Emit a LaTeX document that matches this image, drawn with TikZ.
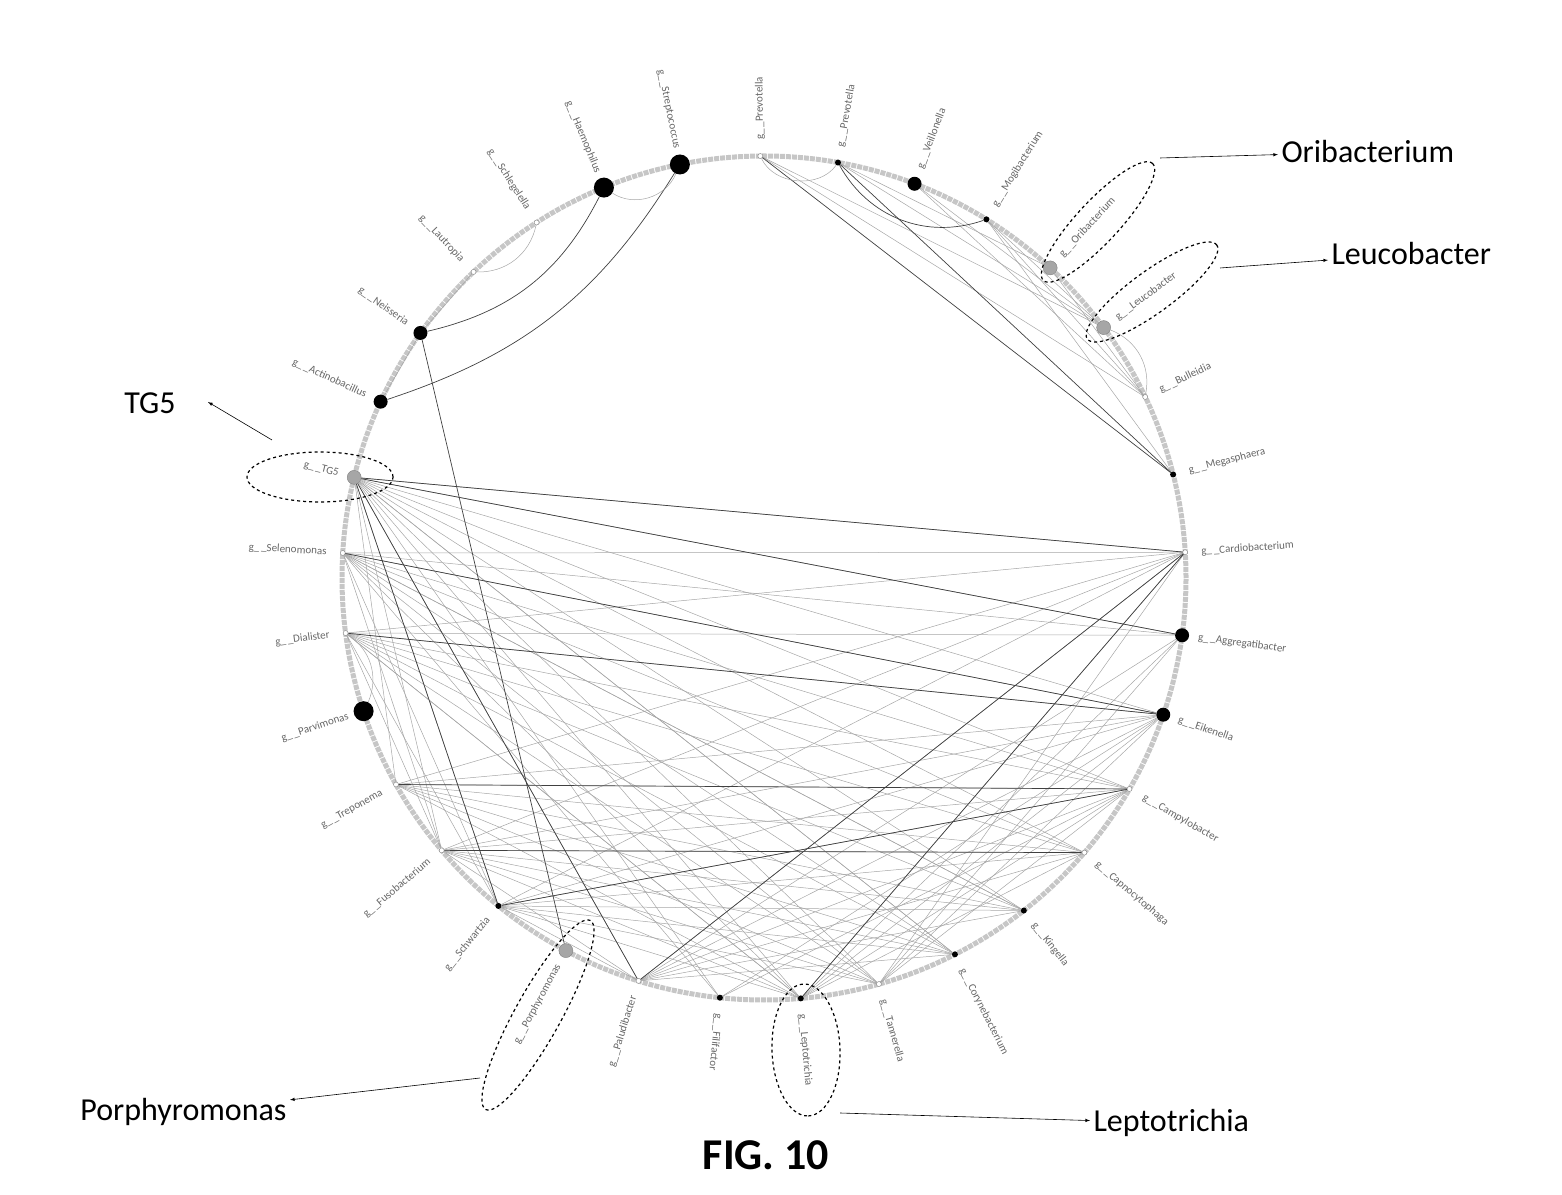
\documentclass[tikz,border=0pt]{standalone}
\usepackage{fontspec}
\setmainfont{Carlito}
\usetikzlibrary{calc}
\begin{document}
\begin{tikzpicture}[x=1pt,y=1pt,
  big/.style={circle,fill=black,inner sep=0pt,minimum size=20pt},
  med/.style={circle,fill=black,inner sep=0pt,minimum size=14pt},
  sml/.style={circle,fill=black,inner sep=0pt,minimum size=6pt},
  tin/.style={circle,draw=gray,fill=white,inner sep=0pt,minimum size=5pt},
  gry/.style={circle,fill=gray!70,draw=gray,inner sep=0pt,minimum size=14pt},
  lbl/.style={text=gray!80!black,font=\fontsize{11}{11}\selectfont,inner sep=0pt},
  edg/.style={gray!70,line width=0.5pt},
  dedg/.style={black!75,line width=0.7pt},
  callout/.style={dashed,line width=1.2pt},
  big text/.style={font=\fontsize{32}{32}\selectfont},
  arr/.style={-latex,line width=0.6pt}]
\useasboundingbox (0,0) rectangle (1562,1194);
\coordinate (c) at (764,616);
\draw[gray!45,line width=5pt,densely dotted] (c) circle (422);
% nodes
\foreach \nm/\ang/\st/\txt in {
 prevA/90.5/tin/Prevotella, prevB/79.9/sml/Prevotella, veil/69.1/med/Veillonella,
 mogi/58.2/sml/Mogibacterium, ori/47.3/gry/Oribacterium, leuc/36.4/gry/Leucobacter,
 bull/25.4/tin/Bulleidia, mega/14.2/sml/Megasphaera, card/3.5/tin/Cardiobacterium,
 aggr/-7.8/med/Aggregatibacter, eik/-18.9/med/Eikenella, camp/-30/tin/Campylobacter,
 capn/-40.6/tin/Capnocytophaga, king/-52/sml/Kingella, cory/-63.1/sml/Corynebacterium,
 tann/-74.2/tin/Tannerella, lept/-85/sml/Leptotrichia, fili/-96/sml/Filifactor,
 palu/-107.3/tin/Paludibacter, porp/-118/gry/Porphyromonas, schw/-129/sml/Schwartzia,
 fuso/-139.8/tin/Fusobacterium, trep/-150.7/tin/Treponema, parv/-161.6/big/Parvimonas,
 dial/-172.5/tin/Dialister, sele/176.6/tin/Selenomonas, tg/166.2/gry/TG5,
 acti/155.3/med/Actinobacillus, neis/144.5/med/Neisseria, laut/133.5/tin/Lautropia,
 schl/122.6/tin/Schlegelella, haem/112.3/big/Haemophilus, strep/101.5/big/Streptococcus}
{
 \node[\st] (\nm) at ($(c)+(\ang:422)$) {};
 \pgfmathsetmacro{\a}{\ang}
 \ifdim \a pt<95pt \ifdim \a pt>-100pt
   \node[lbl,anchor=west,rotate=\ang] at ($(c)+(\ang:438)$) {g\_\,\_\txt};
 \else
   \node[lbl,anchor=east,rotate=\ang+180] at ($(c)+(\ang:438)$) {g\_\,\_\txt};
 \fi\else
   \node[lbl,anchor=east,rotate=\ang+180] at ($(c)+(\ang:438)$) {g\_\,\_\txt};
 \fi
}
% straight edges
\foreach \a/\b in {
 tg/card,tg/aggr,tg/eik,tg/camp,tg/schw,tg/palu,tg/fili,tg/lept,tg/tann,tg/cory,tg/king,tg/fuso,tg/trep,
 sele/card,sele/aggr,sele/eik,sele/camp,sele/capn,sele/king,sele/cory,sele/tann,
 dial/card,dial/aggr,dial/eik,dial/camp,dial/capn,dial/king,dial/cory,dial/lept,
 trep/card,trep/eik,trep/camp,trep/capn,trep/king,trep/cory,trep/tann,trep/lept,
 fuso/card,fuso/eik,fuso/camp,fuso/capn,fuso/king,fuso/cory,fuso/tann,fuso/lept,fuso/palu,fuso/sele,fuso/dial,
 schw/card,schw/eik,schw/camp,schw/capn,schw/king,schw/cory,schw/tann,schw/lept,schw/palu,schw/sele,schw/dial,
 palu/card,palu/aggr,palu/eik,palu/camp,palu/capn,palu/cory,palu/king,
 lept/card,lept/eik,lept/camp,lept/capn,lept/sele,lept/dial,lept/aggr,
 tann/card,tann/eik,tann/camp,tann/aggr,tann/dial,
 fili/camp,fili/eik,fili/sele,
 king/sele,cory/tg,capn/tg,
 prevA/bull,prevA/leuc,prevB/ori,prevB/leuc,veil/bull,veil/leuc,mogi/bull,mogi/mega,mogi/leuc,ori/bull,
 neis/laut,acti/neis}
 {\draw[edg] (\a) -- (\b);}
\foreach \a/\b in {tg/card,tg/aggr,sele/eik,dial/eik,trep/camp,schw/camp,fuso/capn,lept/card,palu/card,neis/porp,prevA/mega,prevB/mega,tg/schw,tg/palu}
 {\draw[dedg] (\a) -- (\b);}
% curves
\draw[dedg] (haem) to[bend left=25] (neis);
\draw[dedg] (strep) to[bend left=20] (acti);
\draw[edg] (haem) to[bend right=50] (strep);
\draw[edg] (prevA) to[bend right=60] (prevB);
\draw[dedg] (prevB) to[bend right=40] (mogi);
\draw[edg] (laut) to[bend right=40] (schl);
\draw[edg] (parv) to[bend right=40] (dial);
\draw[edg] (leuc) to[bend left=40] (bull);
% callouts
\draw[callout] (1098,972) ellipse[x radius=80,y radius=21,rotate=47];
\draw[callout] (1152,902) ellipse[x radius=80,y radius=21,rotate=36];
\draw[callout] (320,717) ellipse[x radius=73,y radius=25];
\draw[callout] (538,179) ellipse[x radius=108,y radius=23,rotate=61];
\draw[callout] (806,144) ellipse[x radius=66,y radius=34,rotate=-88];
\node[big text,anchor=west] (tOri) at (1278,1042) {Oribacterium};
\node[big text,anchor=west] (tLeu) at (1328,940) {Leucobacter};
\node[big text] (tTG) at (150,791) {TG5};
\node[big text,anchor=east] (tPor) at (290,82) {Porphyromonas};
\node[big text,anchor=west] (tLep) at (1090,71) {Leptotrichia};
\coordinate (o1) at (1160,1036);
\coordinate (l1) at (1220,926);
\coordinate (t1) at (272,754);
\coordinate (p1) at (480,116);
\coordinate (e1) at (840,81);
\draw[arr] (o1) -- (tOri);
\draw[arr] (l1) -- (tLeu);
\draw[arr] (t1) -- (208,792);
\draw[arr] (p1) -- (tPor);
\draw[arr] (e1) -- (tLep);
\node[font=\bfseries\fontsize{44}{44}\selectfont] (fig) at (766,39) {FIG. 10};
\end{tikzpicture}
\end{document}
